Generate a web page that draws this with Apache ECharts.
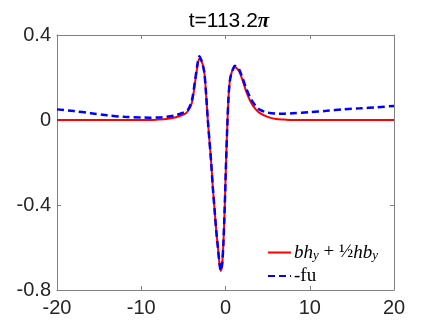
<!DOCTYPE html>
<html>
<head>
<meta charset="utf-8">
<script src="https://cdn.jsdelivr.net/npm/echarts@6/dist/echarts.min.js"></script>
<style>
  html, body { margin: 0; padding: 0; background: #fff; }
  #main { width: 436px; height: 327px; }
</style>
</head>
<body>
<div id="main"></div>
<script>
// x positions
const xs = [-20, -18, -16, -14, -12, -10, -9, -8, -7, -6, -5, -4.5, -4, -3.6, -3.3, -3.1, -2.9, -2.7, -2.5, -2.3,
  -2.1, -1.9, -1.7, -1.5, -1.3, -1.1, -0.9, -0.7, -0.55, -0.4, -0.25, -0.1, 0.05, 0.2, 0.35, 0.5, 0.7, 0.9, 1.1, 1.3,
  1.6, 2, 2.5, 3, 3.5, 4, 5, 6, 7, 8, 10, 12, 14, 16, 18, 20];
// bh_y + 1/2 h b_y
const redVals = [0, 0, 0, 0, 0, 0, 0, 0.002, 0.005, 0.012, 0.025, 0.04, 0.08, 0.18, 0.26, 0.29, 0.28, 0.26, 0.22, 0.12,
  0.0, -0.1, -0.2, -0.32, -0.42, -0.52, -0.6, -0.68, -0.71, -0.68, -0.58, -0.42, -0.22, -0.04, 0.1, 0.18, 0.22, 0.24, 0.25, 0.245,
  0.23, 0.19, 0.13, 0.085, 0.055, 0.035, 0.015, 0.005, 0.002, 0, 0, 0, 0, 0, 0, 0];
// -fu
const blueVals = [0.05, 0.042, 0.032, 0.022, 0.015, 0.012, 0.011, 0.012, 0.015, 0.022, 0.035, 0.045, 0.09, 0.19, 0.27, 0.3, 0.285, 0.26, 0.22, 0.12,
  0.0, -0.1, -0.2, -0.32, -0.42, -0.52, -0.6, -0.68, -0.71, -0.68, -0.58, -0.42, -0.22, -0.04, 0.1, 0.18, 0.22, 0.24, 0.255, 0.25,
  0.24, 0.2, 0.145, 0.1, 0.07, 0.05, 0.035, 0.03, 0.03, 0.032, 0.037, 0.043, 0.05, 0.055, 0.06, 0.066];
const xTicks = [-20, -10, 0, 10, 20];
const yTicks = [-0.8, -0.4, 0, 0.4];
const titleText = 't=113.2';
const legendNames = ['bhy', '-fu'];

const axisCol = '#808080';
const labelFont = 'Liberation Sans, Arial, Helvetica, sans-serif';

var myChart = echarts.init(document.getElementById('main'));
var option;

function pairs(vals) {
  return xs.map(function (x, i) { return [x, vals[i]]; });
}

function boxAxis(pos, isX, show) {
  return {
    type: 'value',
    position: pos,
    min: isX ? xTicks[0] : yTicks[0],
    max: isX ? xTicks[xTicks.length - 1] : yTicks[yTicks.length - 1],
    interval: isX ? 10 : 0.4,
    axisLine: { show: true, onZero: false, lineStyle: { color: axisCol, width: 1 } },
    axisTick: { show: true, inside: true, length: 4, lineStyle: { color: axisCol } },
    splitLine: { show: false },
    axisLabel: {
      show: show,
      color: '#262626',
      fontSize: 20,
      fontFamily: labelFont,
      margin: isX ? 8 : 6,
      formatter: function (v) { return String(Math.round(v * 10) / 10); }
    }
  };
}

option = {
  animation: false,
  backgroundColor: '#fff',
  title: {
    text: '{a|' + titleText + '}{b|π}',
    left: 224,
    top: 6,
    textAlign: 'center',
    textStyle: {
      rich: {
        a: { fontSize: 21, fontFamily: labelFont, color: '#000', fontWeight: 'normal' },
        b: { fontSize: 21, fontFamily: 'Liberation Serif, serif', fontStyle: 'italic', color: '#000' }
      }
    }
  },
  grid: { left: 57, right: 42, top: 35, bottom: 37 },
  xAxis: [boxAxis('bottom', true, true), boxAxis('top', true, false)],
  yAxis: [boxAxis('left', false, true), boxAxis('right', false, false)],
  legend: {
    orient: 'vertical',
    left: 262,
    top: 238,
    itemWidth: 23,
    itemHeight: 14,
    itemGap: 4,
    data: legendNames,
    itemStyle: { opacity: 0 },
    formatter: function (name) {
      if (name === 'bhy') {
        return '{i|bh}{s|y}{n| + }{n|½}{i|hb}{s|y}';
      }
      return '{r|-fu}';
    },
    textStyle: {
      padding: [0, 0, 0, -2],
      rich: {
        i: { fontSize: 19, fontFamily: 'Liberation Serif, serif', fontStyle: 'italic', color: '#000', lineHeight: 20 },
        s: { fontSize: 13, fontFamily: 'Liberation Serif, serif', fontStyle: 'italic', color: '#000', lineHeight: 12, verticalAlign: 'bottom' },
        n: { fontSize: 19, fontFamily: 'Liberation Serif, serif', color: '#000', lineHeight: 20 },
        r: { fontSize: 19, fontFamily: 'Liberation Serif, serif', color: '#000', lineHeight: 20 }
      }
    }
  },
  series: [
    {
      name: 'bhy',
      type: 'line',
      data: pairs(redVals),
      showSymbol: false,
      symbol: 'none',
      smooth: 0.3,
      lineStyle: { color: '#ff0000', width: 2 },
      itemStyle: { color: '#ff0000' },
      z: 2
    },
    {
      name: '-fu',
      type: 'line',
      data: pairs(blueVals),
      showSymbol: false,
      symbol: 'none',
      smooth: 0.3,
      lineStyle: { color: '#0000ff', width: 2.5, type: [7, 4] },
      itemStyle: { color: '#0000ff' },
      z: 3
    }
  ]
};

myChart.setOption(option);
</script>
</body>
</html>
